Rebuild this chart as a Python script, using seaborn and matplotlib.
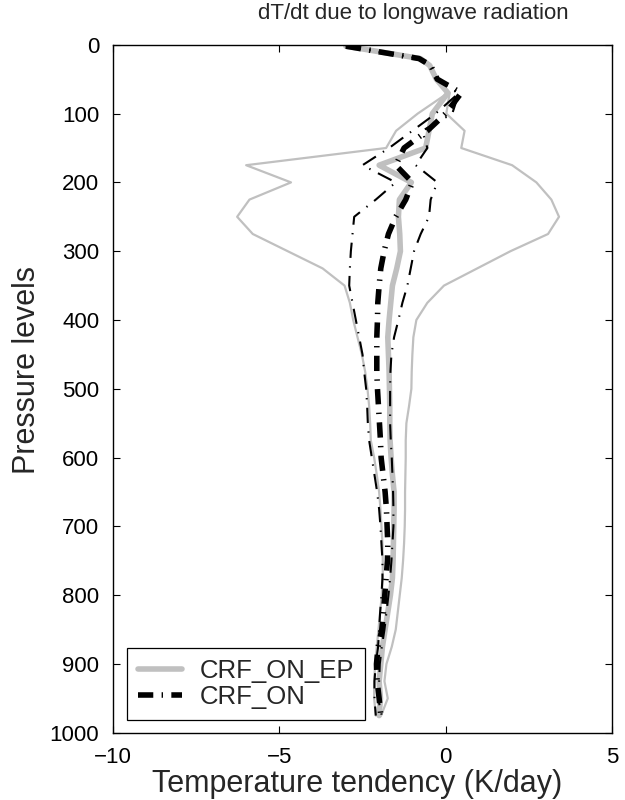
import matplotlib
matplotlib.use("Agg")
import matplotlib.pyplot as plt
import numpy as np
import pandas as pd
import seaborn as sns

# Pressure levels (hPa)
levels = [2, 20, 30, 50, 70, 100, 125, 150, 175, 200, 225, 250, 275, 300, 325,
          350, 375, 400, 425, 450, 475, 500, 525, 550, 575, 600, 625, 650, 675,
          700, 725, 750, 775, 800, 825, 850, 875, 900, 925, 950, 975]

# Longwave heating rate (K/day), experiment CRF_ON_EP: mean and envelope
ep_mean = [-3.0, -0.76, -0.48, -0.28, 0.07, -0.40, -0.50, -0.60, -2.00, -1.03,
           -1.39, -1.42, -1.38, -1.36, -1.47, -1.60, -1.65, -1.70, -1.74, -1.72,
           -1.70, -1.69, -1.68, -1.68, -1.67, -1.64, -1.60, -1.55, -1.55, -1.56,
           -1.57, -1.58, -1.60, -1.66, -1.74, -1.82, -1.90, -1.95, -2.00, -1.96,
           -2.00]
ep_low = [-3.0, -0.76, -0.48, -0.28, 0.07, -0.84, -1.49, -1.79, -6.00, -4.65,
          -5.90, -6.27, -5.80, -4.75, -3.70, -3.04, -2.88, -2.78, -2.65, -2.52,
          -2.42, -2.35, -2.30, -2.27, -2.25, -2.15, -2.07, -2.00, -1.96, -1.93,
          -1.90, -1.89, -1.89, -1.92, -1.97, -2.02, -2.07, -2.12, -2.15, -2.15,
          -2.10]
ep_high = [-3.0, -0.76, -0.48, -0.28, 0.12, 0.02, 0.57, 0.47, 2.00, 2.73,
           3.18, 3.41, 3.08, 1.95, 0.95, -0.05, -0.55, -0.88, -0.97, -1.00,
           -1.02, -1.03, -1.10, -1.18, -1.20, -1.20, -1.21, -1.22, -1.22, -1.23,
           -1.25, -1.28, -1.32, -1.38, -1.44, -1.50, -1.62, -1.78, -1.84, -1.74,
           -1.94]

# Experiment CRF_ON: mean and envelope
on_mean = [-3.0, -0.80, -0.45, -0.25, 0.47, 0.00, -0.55, -1.25, -1.50, -1.00,
           -1.20, -1.50, -1.72, -1.85, -1.95, -2.00, -2.04, -2.05, -2.07, -2.07,
           -2.07, -2.05, -2.02, -1.99, -1.96, -1.94, -1.88, -1.82, -1.78, -1.76,
           -1.74, -1.75, -1.79, -1.83, -1.87, -1.92, -2.03, -2.08, -2.06, -2.00,
           -1.95]
on_low = [-3.0, -0.80, -0.45, -0.25, 0.40, -0.30, -1.00, -1.70, -2.50, -1.50,
          -2.10, -2.75, -2.80, -2.85, -2.88, -2.90, -2.80, -2.70, -2.60, -2.50,
          -2.45, -2.39, -2.36, -2.34, -2.30, -2.22, -2.14, -2.06, -2.00, -1.96,
          -1.93, -1.90, -1.90, -1.93, -1.97, -2.00, -2.03, -2.10, -2.14, -2.14,
          -2.10]
on_high = [-3.0, -0.80, -0.45, -0.25, 0.40, 0.20, -0.70, -0.55, -0.90, -0.25,
           -0.45, -0.50, -0.75, -0.95, -1.05, -1.15, -1.30, -1.42, -1.55, -1.63,
           -1.66, -1.67, -1.67, -1.67, -1.65, -1.62, -1.60, -1.58, -1.57, -1.57,
           -1.60, -1.63, -1.67, -1.72, -1.78, -1.84, -1.92, -1.98, -2.00, -2.03,
           -1.92]

labels = ["CRF_ON_EP", "CRF_ON"]
xticks = [-10, -5, 0, 5]
yticks = list(range(0, 1001, 100))

sns.set_theme(style="white")
plt.rcParams["font.family"] = ["Liberation Sans", "DejaVu Sans"]
plt.rcParams["lines.scale_dashes"] = False
plt.rcParams["axes.unicode_minus"] = True

fig = plt.figure(figsize=(6.25, 8), dpi=100)
ax = fig.add_axes([0.181, 0.084, 0.798, 0.86])

gray = "#c0c0c0"
dashdot = (0, (11, 6, 1, 6))

def draw(vals, **kw):
    sns.lineplot(x=vals, y=levels, sort=False, estimator=None, orient="y",
                 ax=ax, legend=False, **kw)
    return ax.lines[-1]

draw(ep_low, color=gray, lw=1.6)
draw(ep_high, color=gray, lw=1.6)
h_ep = draw(ep_mean, color=gray, lw=4.0)
draw(on_low, color="black", lw=1.5, linestyle=dashdot)
draw(on_high, color="black", lw=1.5, linestyle=dashdot)
h_on = draw(on_mean, color="black", lw=4.0, linestyle=dashdot)

ax.set_xlim(-10, 5)
ax.set_ylim(1000, 0)
ax.set_xticks(xticks)
ax.set_yticks(yticks)
ax.tick_params(direction="in", length=5, width=0.8, labelsize=16,
               top=True, right=True, bottom=True, left=True,
               labeltop=False, labelright=False, colors="black", pad=10)
for s in ax.spines.values():
    s.set_color("black")
    s.set_linewidth(1.0)

ax.set_xlabel("Temperature tendency (K/day)", fontsize=22, va="center")
ax.set_ylabel("Pressure levels", fontsize=22)
ax.xaxis.set_label_coords(0.49, -0.0745)
ax.yaxis.set_label_coords(-0.142, 0.528)
fig.text(0.661, 0.983, "dT/dt due to longwave radiation", fontsize=16,
         ha="center", va="center")

leg = ax.legend([h_ep, h_on], labels, loc="lower left",
                bbox_to_anchor=(0.028, 0.019), borderaxespad=0,
                fontsize=18.5, handlelength=1.7, handletextpad=0.7,
                borderpad=0.42, labelspacing=0.08, fancybox=False,
                framealpha=1, edgecolor="black")
leg.get_frame().set_linewidth(0.9)

fig.savefig("out.png", dpi=100)
